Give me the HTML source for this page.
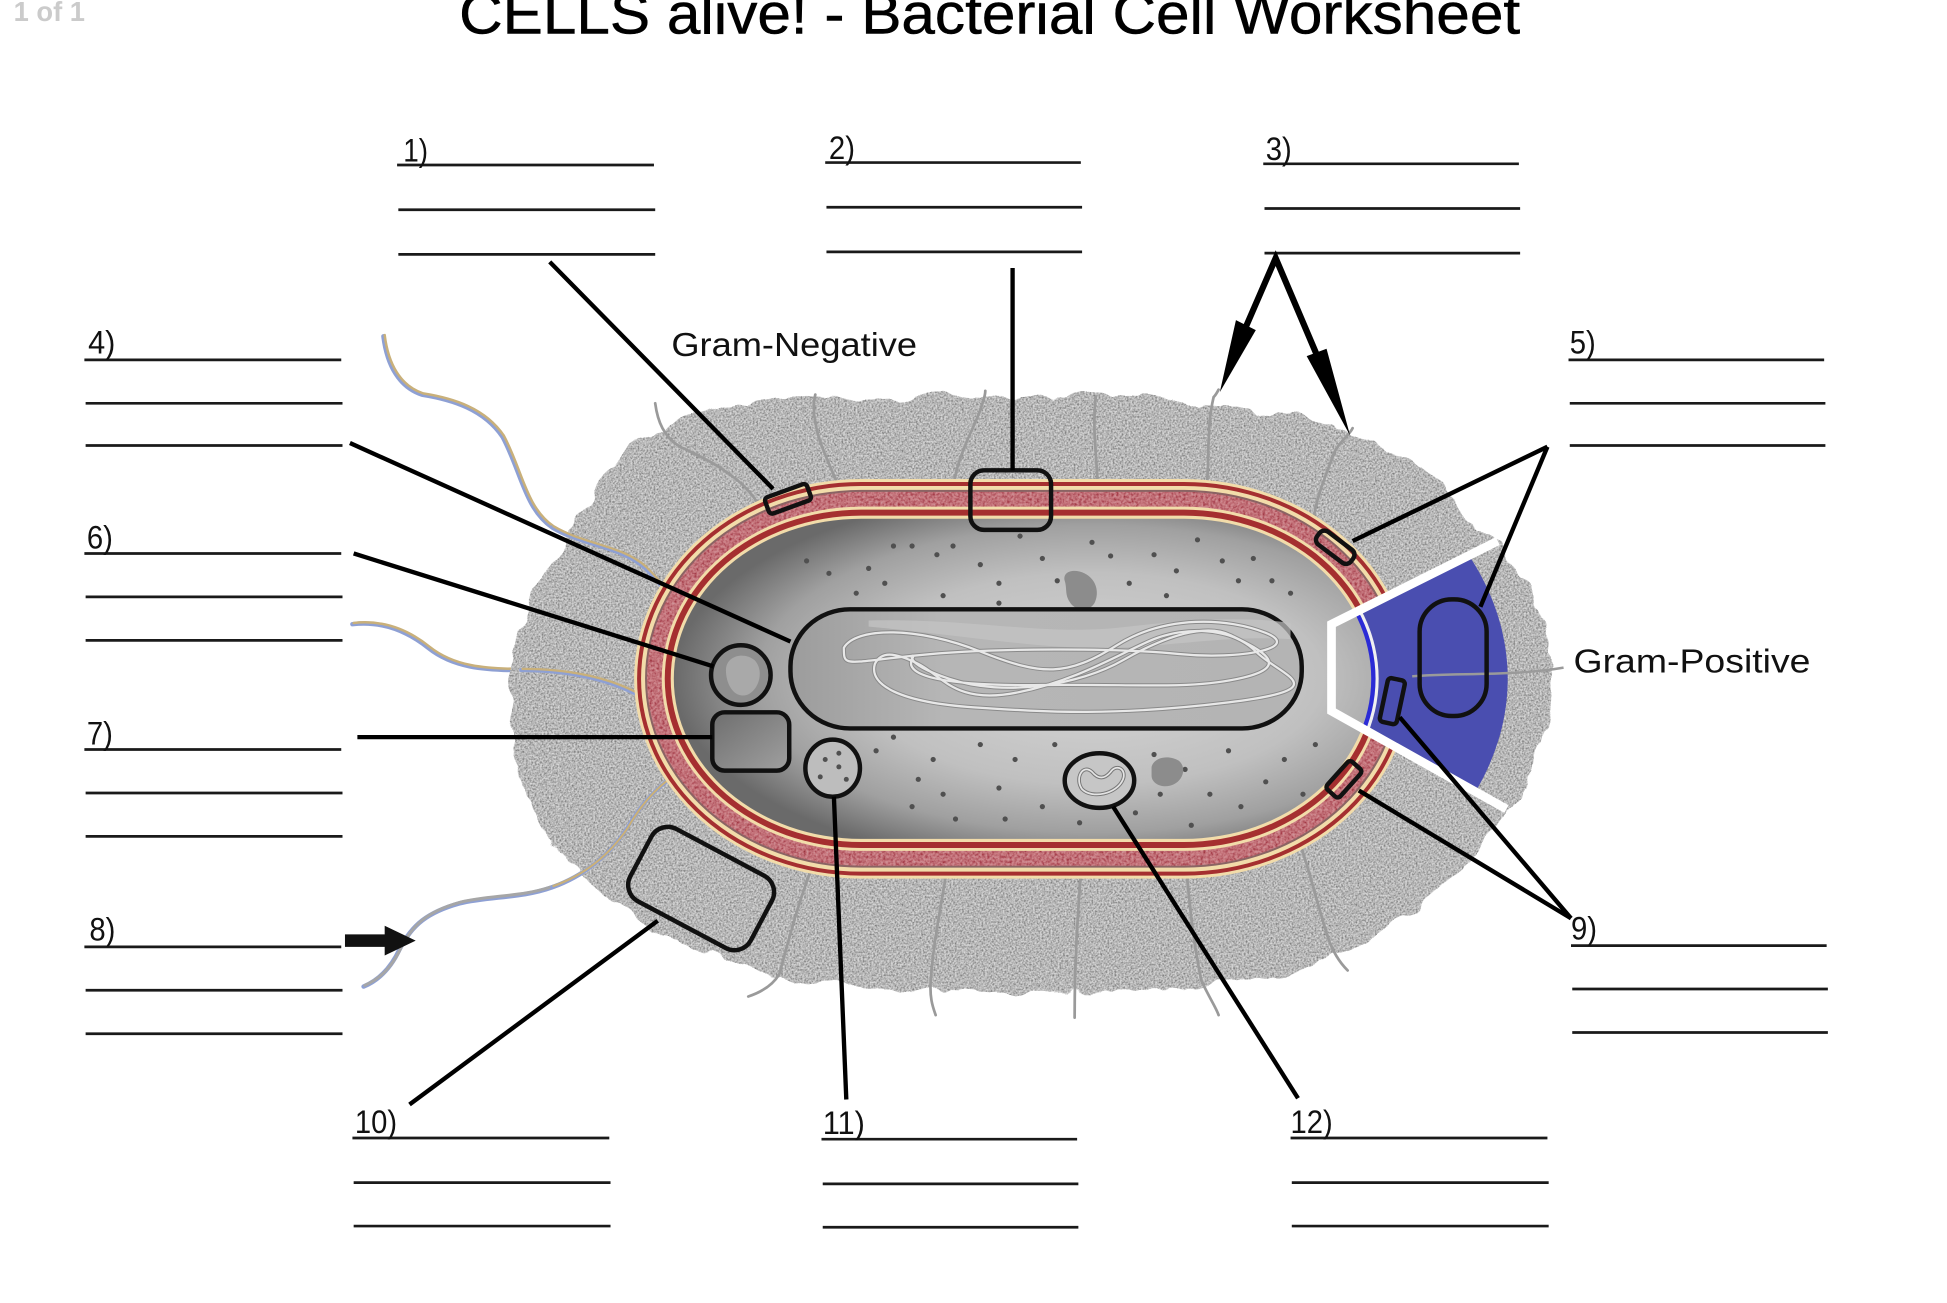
<!DOCTYPE html>
<html>
<head>
<meta charset="utf-8">
<style>
html,body{margin:0;padding:0;background:#fff;}
body{width:1947px;height:1303px;overflow:hidden;}
svg{display:block;}
text{font-family:"Liberation Sans",sans-serif;}
</style>
</head>
<body>
<svg width="1947" height="1303" viewBox="0 0 1569 1050" preserveAspectRatio="none" xmlns="http://www.w3.org/2000/svg">
<defs>
  <filter id="cap" x="-6%" y="-6%" width="112%" height="112%">
    <feTurbulence type="fractalNoise" baseFrequency="0.035" numOctaves="3" seed="4" result="warp"/>
    <feDisplacementMap in="SourceGraphic" in2="warp" scale="16" xChannelSelector="R" yChannelSelector="G" result="shape"/>
    <feTurbulence type="fractalNoise" baseFrequency="0.7" numOctaves="2" seed="9" result="fine"/>
    <feColorMatrix in="fine" type="matrix" values="1.8 0 0 0 -0.35  1.8 0 0 0 -0.35  1.8 0 0 0 -0.35  0 0 0 0 1" result="gray"/>
    <feComposite in="gray" in2="shape" operator="in" result="tex"/>
    <feComposite in="shape" in2="tex" operator="arithmetic" k1="0" k2="0.5" k3="0.5" k4="0"/>
  </filter>
  <filter id="band" x="0" y="0" width="100%" height="100%">
    <feTurbulence type="fractalNoise" baseFrequency="0.5" numOctaves="2" seed="2" result="fine"/>
    <feColorMatrix in="fine" type="matrix" values="1.6 0 0 0 0.0  1.2 0 0 0 -0.25  1.2 0 0 0 -0.2  0 0 0 0 1" result="pink"/>
    <feComposite in="pink" in2="SourceGraphic" operator="in" result="tex"/>
    <feComposite in="SourceGraphic" in2="tex" operator="arithmetic" k1="0" k2="0.65" k3="0.35" k4="0"/>
  </filter>
  <radialGradient id="cyto" cx="0.6" cy="0.5" r="0.6">
    <stop offset="0" stop-color="#d6d6d6"/>
    <stop offset="0.55" stop-color="#c0c0c0"/>
    <stop offset="0.8" stop-color="#a0a0a0"/>
    <stop offset="1" stop-color="#6a6a6a"/>
  </radialGradient>
  <linearGradient id="nuc" x1="0" y1="0" x2="1" y2="0">
    <stop offset="0" stop-color="#9c9c9c"/>
    <stop offset="0.3" stop-color="#b6b6b6"/>
    <stop offset="1" stop-color="#b4b4b4"/>
  </linearGradient>
  <linearGradient id="sq" x1="0" y1="0" x2="1" y2="1">
    <stop offset="0" stop-color="#6e6e6e"/>
    <stop offset="1" stop-color="#a0a0a0"/>
  </linearGradient>
  <clipPath id="noWedge">
    <path clip-rule="evenodd" d="M0 0 H1569 V1050 H0 Z M1073 503 L1400 339 L1400 756 L1073 573 Z"/>
  </clipPath>
  <clipPath id="wedge">
    <path d="M1073 503 L1400 339 L1400 756 L1073 573 Z"/>
  </clipPath>
</defs>

<!-- header -->
<text x="11" y="17" font-size="22" font-weight="bold" fill="#cbcbcb">1 of 1</text>
<text x="370" y="27" font-size="46" fill="#000" stroke="#000" stroke-width="0.4" textLength="855" lengthAdjust="spacingAndGlyphs">CELLS alive! - Bacterial Cell Worksheet</text>

<!-- answer blocks -->
<g stroke="#1a1a1a" stroke-width="2.2" fill="none">
  <path d="M320 133H527 M321 169H528 M321 205H528"/>
  <path d="M665 131H871 M666 167H872 M666 203H872"/>
  <path d="M1018 132H1224 M1019 168H1225 M1019 204H1225"/>
  <path d="M68 290H275 M69 325H276 M69 359H276"/>
  <path d="M1264 290H1470 M1265 325H1471 M1265 359H1471"/>
  <path d="M68 446H275 M69 481H276 M69 516H276"/>
  <path d="M68 604H275 M69 639H276 M69 674H276"/>
  <path d="M68 763H275 M69 798H276 M69 833H276"/>
  <path d="M1266 762H1472 M1267 797H1473 M1267 832H1473"/>
  <path d="M284 917H491 M285 953H492 M285 988H492"/>
  <path d="M662 918H868 M663 954H869 M663 989H869"/>
  <path d="M1040 917H1247 M1041 953H1248 M1041 988H1248"/>
</g>
<g font-size="26" fill="#111">
  <text x="325" y="130" textLength="20" lengthAdjust="spacingAndGlyphs">1)</text>
  <text x="668" y="128" textLength="21" lengthAdjust="spacingAndGlyphs">2)</text>
  <text x="1020" y="129" textLength="21" lengthAdjust="spacingAndGlyphs">3)</text>
  <text x="71" y="285" textLength="22" lengthAdjust="spacingAndGlyphs">4)</text>
  <text x="1265" y="285" textLength="21" lengthAdjust="spacingAndGlyphs">5)</text>
  <text x="70" y="442" textLength="21" lengthAdjust="spacingAndGlyphs">6)</text>
  <text x="70" y="600" textLength="21" lengthAdjust="spacingAndGlyphs">7)</text>
  <text x="72" y="758" textLength="21" lengthAdjust="spacingAndGlyphs">8)</text>
  <text x="1266" y="757" textLength="21" lengthAdjust="spacingAndGlyphs">9)</text>
  <text x="286" y="913" textLength="34" lengthAdjust="spacingAndGlyphs">10)</text>
  <text x="663" y="914" textLength="34" lengthAdjust="spacingAndGlyphs">11)</text>
  <text x="1040" y="913" textLength="34" lengthAdjust="spacingAndGlyphs">12)</text>
</g>

<text x="541" y="287" font-size="27" fill="#111" textLength="198" lengthAdjust="spacingAndGlyphs">Gram-Negative</text>
<text x="1268" y="542" font-size="27" fill="#111" textLength="191" lengthAdjust="spacingAndGlyphs">Gram-Positive</text>

<!-- flagella -->
<g fill="none" stroke-linecap="round">
  <g stroke="#8ea0d4" stroke-width="3.6">
    <path d="M309 271 C312 295,322 312,340 318 C365 322,390 330,405 352 C420 380,423 410,445 425 C470 440,500 440,520 458 C532 470,540 480,545 490"/>
    <path d="M284 503 C310 500,330 510,345 522 C365 538,390 540,420 540 C460 540,490 548,510 558 C520 562,528 562,532 562"/>
    <path d="M293 795 C305 790,315 780,322 765 C332 745,345 735,370 728 C395 722,420 724,445 715 C470 706,490 690,505 668 C518 645,535 628,556 618"/>
  </g>
  <g stroke="#c9b07a" stroke-width="2" transform="translate(1,-1)">
    <path d="M309 271 C312 295,322 312,340 318 C365 322,390 330,405 352 C420 380,423 410,445 425 C470 440,500 440,520 458 C532 470,540 480,545 490"/>
    <path d="M284 503 C310 500,330 510,345 522 C365 538,390 540,420 540 C460 540,490 548,510 558 C520 562,528 562,532 562"/>
  </g>
  <path stroke="#a6a6a6" stroke-width="2.4" transform="translate(1,-1)" d="M293 795 C305 790,315 780,322 765 C332 745,345 735,370 728 C395 722,420 724,445 715 C470 706,490 690,505 668 C518 645,535 628,556 618"/>
</g>

<!-- capsule -->
<polygon filter="url(#cap)" fill="#a8a8a8" points="520,350 560,335 600,326 650,321 700,322 760,318 820,320 880,318 940,322 1000,328 1050,336 1090,348 1130,366 1160,390 1185,418 1212,445 1232,475 1244,510 1250,545 1246,585 1236,620 1218,652 1195,680 1168,708 1138,735 1100,758 1060,776 1000,790 940,797 880,800 820,800 760,798 700,795 640,790 600,780 560,765 520,745 485,720 455,690 432,655 416,615 409,575 412,530 424,490 443,452 468,412 493,378"/>

<!-- flagella re-drawn where they overlap capsule -->
<g fill="none" stroke-linecap="round">
  <path stroke="#8ea0d4" stroke-width="3.2" d="M445 425 C470 440,500 440,520 458 C532 470,540 480,545 490"/>
  <path stroke="#c9b07a" stroke-width="1.8" transform="translate(1,-1)" d="M445 425 C470 440,500 440,520 458 C532 470,540 480,545 490"/>
  <path stroke="#8ea0d4" stroke-width="3.2" d="M420 540 C460 540,490 548,510 558 C520 562,528 562,532 562"/>
  <path stroke="#c9b07a" stroke-width="1.8" transform="translate(1,-1)" d="M420 540 C460 540,490 548,510 558 C520 562,528 562,532 562"/>
  <path stroke="#8ea0d4" stroke-width="3.2" d="M445 715 C470 706,490 690,505 668 C518 645,535 628,556 618"/>
  <path stroke="#c9b07a" stroke-width="1.8" transform="translate(1,-1)" d="M445 715 C470 706,490 690,505 668 C518 645,535 628,556 618"/>
</g>

<!-- pili -->
<g fill="none" stroke="#9a9a9a" stroke-width="2.2" stroke-linecap="round">
  <path d="M612 408 C600 385,570 370,548 360 C535 352,530 340,528 325"/>
  <path d="M682 408 C672 380,660 360,657 340 C655 330,656 322,657 318"/>
  <path d="M768 395 C770 370,785 345,790 330 C793 322,794 318,794 315"/>
  <path d="M885 398 C884 370,880 345,883 320"/>
  <path d="M972 398 C975 370,972 345,978 320 C980 318,981 316,982 314"/>
  <path d="M1058 423 C1060 400,1070 380,1075 365 C1080 355,1088 350,1090 345"/>
  <path d="M658 690 C645 720,635 760,628 785 C622 795,612 800,603 803"/>
  <path d="M765 690 C760 720,752 760,750 790 C749 805,752 812,754 818"/>
  <path d="M872 690 C870 720,866 760,866 820"/>
  <path d="M955 690 C958 720,960 750,968 790 C975 805,980 812,982 818"/>
  <path d="M1045 672 C1055 700,1062 730,1070 755 C1075 770,1082 778,1086 782"/>
</g>

<!-- gram-negative envelope -->
<g clip-path="url(#noWedge)">
  <rect x="511" y="386" width="626" height="322" rx="183" ry="161" fill="#f2dcaa"/>
  <rect x="513.4" y="388.4" width="621.2" height="317.2" rx="180.6" ry="158.6" fill="#a52f30"/>
  <rect x="516.6" y="391.6" width="614.8" height="310.8" rx="177.4" ry="155.4" fill="#f2dcaa"/>
  <rect x="519.8" y="394.8" width="608.4" height="304.4" rx="174.2" ry="152.2" fill="#8a6464"/>
  <rect x="521.4" y="396.4" width="605.2" height="301.2" rx="172.6" ry="150.6" fill="#a9464c" filter="url(#band)"/>
  <rect x="533.3" y="408.3" width="581.4" height="277.4" rx="160.7" ry="138.7" fill="#f2dcaa"/>
  <rect x="535.7" y="410.7" width="576.6" height="272.6" rx="158.3" ry="136.3" fill="#a52f30"/>
  <rect x="540.5" y="415.5" width="567" height="263" rx="153.5" ry="131.5" fill="#f2dcaa"/>
</g>

<!-- gram-positive wall -->
<g clip-path="url(#wedge)">
  <ellipse cx="830" cy="547" rx="385" ry="252" fill="#4a4eb0"/>
  <rect x="539" y="414" width="572" height="266" rx="155" ry="133" fill="#f0f0f0"/>
  <rect x="541.5" y="416.5" width="567" height="261" rx="152.5" ry="130.5" fill="#2b2bd6"/>
</g>

<!-- cytoplasm -->
<rect x="543" y="418" width="562" height="258" rx="151" ry="129" fill="url(#cyto)"/>

<!-- ribosome dots -->
<g fill="#505050">
  <circle cx="650" cy="452" r="2.1"/><circle cx="668" cy="462" r="2.1"/><circle cx="700" cy="458" r="2.1"/><circle cx="713" cy="470" r="2.1"/>
  <circle cx="735" cy="440" r="2.1"/><circle cx="755" cy="447" r="2.1"/><circle cx="768" cy="440" r="2.1"/><circle cx="790" cy="455" r="2.1"/>
  <circle cx="805" cy="470" r="2.1"/><circle cx="822" cy="432" r="2.1"/><circle cx="840" cy="450" r="2.1"/><circle cx="852" cy="468" r="2.1"/>
  <circle cx="880" cy="437" r="2.1"/><circle cx="895" cy="448" r="2.1"/><circle cx="910" cy="470" r="2.1"/><circle cx="930" cy="447" r="2.1"/>
  <circle cx="948" cy="460" r="2.1"/><circle cx="965" cy="435" r="2.1"/><circle cx="985" cy="452" r="2.1"/><circle cx="998" cy="468" r="2.1"/>
  <circle cx="1010" cy="450" r="2.1"/><circle cx="1025" cy="468" r="2.1"/><circle cx="690" cy="478" r="2.1"/><circle cx="760" cy="480" r="2.1"/>
  <circle cx="805" cy="486" r="2.1"/><circle cx="940" cy="480" r="2.1"/><circle cx="1040" cy="478" r="2.1"/><circle cx="720" cy="440" r="2.1"/>
  <circle cx="706" cy="605" r="2.1"/><circle cx="720" cy="594" r="2.1"/><circle cx="740" cy="628" r="2.1"/><circle cx="752" cy="612" r="2.1"/>
  <circle cx="760" cy="640" r="2.1"/><circle cx="790" cy="600" r="2.1"/><circle cx="805" cy="635" r="2.1"/><circle cx="818" cy="612" r="2.1"/>
  <circle cx="840" cy="650" r="2.1"/><circle cx="850" cy="600" r="2.1"/><circle cx="915" cy="655" r="2.1"/><circle cx="930" cy="608" r="2.1"/>
  <circle cx="955" cy="620" r="2.1"/><circle cx="975" cy="640" r="2.1"/><circle cx="990" cy="605" r="2.1"/><circle cx="1000" cy="650" r="2.1"/>
  <circle cx="1020" cy="630" r="2.1"/><circle cx="1035" cy="612" r="2.1"/><circle cx="1050" cy="640" r="2.1"/><circle cx="770" cy="660" r="2.1"/>
  <circle cx="810" cy="660" r="2.1"/><circle cx="870" cy="663" r="2.1"/><circle cx="960" cy="665" r="2.1"/><circle cx="1060" cy="600" r="2.1"/>
  <circle cx="935" cy="640" r="2.1"/><circle cx="735" cy="650" r="2.1"/>
</g>

<!-- inclusions -->
<path d="M858 468 C856 460,866 458,874 462 C884 467,886 478,882 486 C877 494,866 492,862 485 C858 479,860 474,858 468 Z" fill="#8c8c8c"/>
<path d="M928 618 C930 610,942 608,950 613 C956 618,954 628,946 632 C938 636,928 632,928 625 Z" fill="#8c8c8c"/>

<!-- nucleoid -->
<rect x="637" y="491" width="412" height="96" rx="48" ry="46" fill="url(#nuc)" stroke="#111" stroke-width="3.6"/>
<path d="M700 500 C780 498,840 512,900 506 C950 500,1000 496,1040 502 L1040 515 C990 512,950 520,900 522 C840 524,780 512,700 505 Z" fill="#c4c4c4" opacity="0.7"/>
<g fill="none" stroke-linecap="round">
  <g stroke="#8a8a8a" stroke-width="3.4">
    <path d="M680 522 C690 505,740 505,790 525 S860 545,900 520 S990 498,1020 510 S1000 532,950 527 S800 522,740 528 S680 538,680 522 Z"/>
    <path d="M705 535 C700 552,725 566,785 570 S900 577,990 566 S1032 545,1012 525 S955 505,930 515 S870 548,820 558 S760 545,740 535 S710 525,705 535 Z"/>
    <path d="M735 531 C728 545,762 553,840 552 S960 556,1002 546 S1012 522,992 512 S940 512,905 532 S810 562,765 547 S740 524,735 531 Z"/>
  </g>
  <g stroke="#e8e8e8" stroke-width="1.8">
    <path d="M680 522 C690 505,740 505,790 525 S860 545,900 520 S990 498,1020 510 S1000 532,950 527 S800 522,740 528 S680 538,680 522 Z"/>
    <path d="M705 535 C700 552,725 566,785 570 S900 577,990 566 S1032 545,1012 525 S955 505,930 515 S870 548,820 558 S760 545,740 535 S710 525,705 535 Z"/>
    <path d="M735 531 C728 545,762 553,840 552 S960 556,1002 546 S1012 522,992 512 S940 512,905 532 S810 562,765 547 S740 524,735 531 Z"/>
  </g>
</g>

<!-- organelles -->
<circle cx="597" cy="544" r="24" fill="#8e8e8e" stroke="#111" stroke-width="3.6"/>
<path d="M585 540 C585 528,600 525,608 532 C616 540,612 556,602 560 C592 563,585 552,585 540 Z" fill="#a9a9a9"/>
<rect x="574" y="574" width="62" height="47" rx="10" fill="url(#sq)" stroke="#111" stroke-width="3.6"/>
<ellipse cx="671" cy="619" rx="22" ry="23" fill="#bdbdbd" stroke="#111" stroke-width="3.6"/>
<g fill="#505050"><circle cx="665" cy="612" r="2"/><circle cx="676" cy="607" r="2"/><circle cx="676" cy="618" r="2"/><circle cx="661" cy="626" r="2"/><circle cx="682" cy="628" r="2"/></g>
<ellipse cx="886" cy="629" rx="28" ry="22" fill="#c6c6c6" stroke="#111" stroke-width="3.6"/>
<path d="M880 622 C872 615,866 628,872 636 C880 644,900 640,905 628 C908 620,900 615,895 622 C890 628,885 628,880 622 Z" fill="none" stroke="#777" stroke-width="3"/>
<path d="M880 622 C872 615,866 628,872 636 C880 644,900 640,905 628 C908 620,900 615,895 622 C890 628,885 628,880 622 Z" fill="none" stroke="#e4e4e4" stroke-width="1.4"/>

<!-- gram-positive pilus -->
<path d="M1138 545 C1170 542,1220 545,1260 538" fill="none" stroke="#9a9a9a" stroke-width="2"/>

<!-- wedge outline -->
<polyline points="1207,436 1073,503 1073,573 1214,652" fill="none" stroke="#fff" stroke-width="7" stroke-linejoin="miter"/>

<!-- highlight boxes -->
<g fill="none" stroke="#111" stroke-width="3.6">
  <rect x="-18" y="-7" width="36" height="14" rx="3" transform="translate(635,402) rotate(-20)"/>
  <rect x="782" y="379" width="65" height="48" rx="11"/>
  <rect x="-17" y="-6.5" width="34" height="13" rx="5" transform="translate(1076,441) rotate(37)"/>
  <rect x="1144" y="483" width="54" height="94" rx="26"/>
  <rect x="-7" y="-18" width="14" height="36" rx="3" transform="translate(1122,565) rotate(12)"/>
  <rect x="-15" y="-7" width="30" height="14" rx="3" transform="translate(1083,628) rotate(-48)"/>
  <rect x="-55" y="-33" width="110" height="66" rx="15" transform="translate(565,716) rotate(28)"/>
</g>

<!-- connector lines -->
<g stroke="#000" stroke-width="3.5" fill="none">
  <line x1="443" y1="211" x2="623" y2="394"/>
  <line x1="816" y1="216" x2="816" y2="379"/>
  <line x1="282" y1="357" x2="637" y2="517"/>
  <line x1="1247" y1="360" x2="1090" y2="436"/>
  <line x1="1247" y1="360" x2="1193" y2="489"/>
  <line x1="285" y1="446" x2="575" y2="537"/>
  <line x1="288" y1="594" x2="574" y2="594"/>
  <line x1="1266" y1="740" x2="1095" y2="637"/>
  <line x1="1266" y1="740" x2="1128" y2="578"/>
  <line x1="330" y1="890" x2="530" y2="742"/>
  <line x1="682" y1="886" x2="672" y2="642"/>
  <line x1="1046" y1="885" x2="897" y2="650"/>
</g>

<!-- arrows for 3 -->
<polyline points="1002,268 1028,208 1062,288" fill="none" stroke="#000" stroke-width="5" stroke-linejoin="miter" stroke-miterlimit="10"/>
<polygon points="983,316 996,258 1012,266" fill="#000"/>
<polygon points="1088,351 1053,287 1069,281" fill="#000"/>

<!-- arrow for 8 -->
<polygon points="278,753 310,753 310,746 335,758 310,770 310,763 278,763" fill="#111"/>
</svg>
</body>
</html>
